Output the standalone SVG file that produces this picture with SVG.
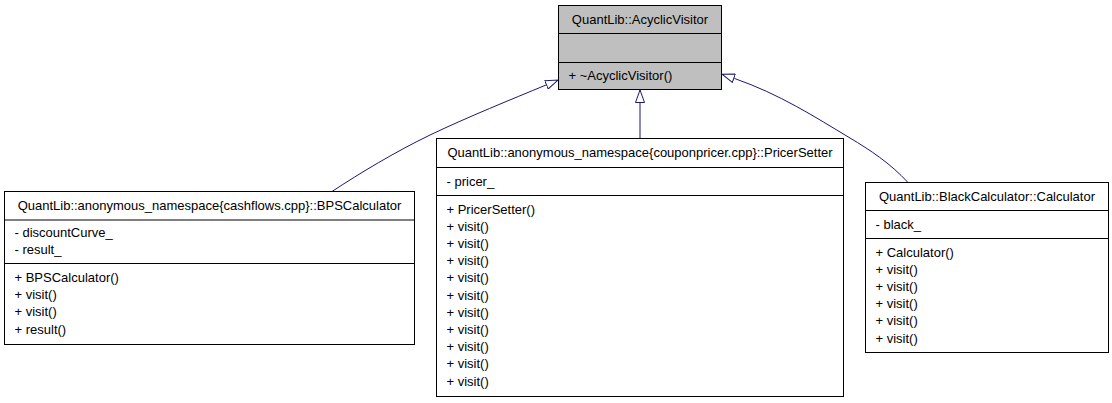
<svg xmlns="http://www.w3.org/2000/svg" width="1112" height="403" viewBox="0 0 1112 403">
<style>
  .box { fill: #ffffff; stroke: #000000; stroke-width: 1; }
  .base { fill: #bfbfbf; stroke: #000000; stroke-width: 1; }
  .sep { stroke: #000000; stroke-width: 1; }
  text { font-family: "Liberation Sans", Arial, Helvetica, sans-serif; font-size: 13px; fill: #000000; }
  .c { text-anchor: middle; }
  .edge { fill: none; stroke: #191970; stroke-width: 1; }
</style>
<defs>
  <marker id="inherit" viewBox="0 0 13.5 10" refX="0" refY="5" markerWidth="13.5" markerHeight="10" markerUnits="userSpaceOnUse" orient="auto">
    <path d="M0.5,0.5 L13,5 L0.5,9.5 Z" fill="#ffffff" stroke="#191970" stroke-width="1"/>
  </marker>
</defs>
<rect width="1112" height="403" fill="#ffffff"/>

<g id="connectors">
  <path class="edge" d="M332,191.5 C360,173 395,152 430,135 C470,116 510,100 546,85" marker-end="url(#inherit)"/>
  <path class="edge" d="M640,138.5 L640,103" marker-end="url(#inherit)"/>
  <path class="edge" d="M908,182.5 C890,163 870,150 850,138 C815,117 780,94.3 734.3,78.4" marker-end="url(#inherit)"/>
</g>

<g id="node-AcyclicVisitor">
  <rect class="base" x="558.5" y="5.5" width="163" height="84"/>
  <line class="sep" x1="558.5" y1="33.5" x2="721.5" y2="33.5"/>
  <line class="sep" x1="558.5" y1="62.5" x2="721.5" y2="62.5"/>
  <text class="c" x="640" y="23.5">QuantLib::AcyclicVisitor</text>
  <text x="568.5" y="80">+ ~AcyclicVisitor()</text>
</g>

<g id="node-BPSCalculator">
  <rect class="box" x="4.5" y="191.5" width="410" height="153"/>
  <line class="sep" x1="4.5" y1="220" x2="414.5" y2="220"/>
  <line class="sep" x1="4.5" y1="263.5" x2="414.5" y2="263.5"/>
  <text class="c" x="209.5" y="210">QuantLib::anonymous_namespace{cashflows.cpp}::BPSCalculator</text>
  <text x="14.5" y="237">- discountCurve_</text>
  <text x="14.5" y="254.2">- result_</text>
  <text x="14.5" y="282">+ BPSCalculator()</text>
  <text x="14.5" y="299.2">+ visit()</text>
  <text x="14.5" y="316.4">+ visit()</text>
  <text x="14.5" y="333.6">+ result()</text>
</g>

<g id="node-PricerSetter">
  <rect class="box" x="436.5" y="138.5" width="407" height="258"/>
  <line class="sep" x1="436.5" y1="167.5" x2="843.5" y2="167.5"/>
  <line class="sep" x1="436.5" y1="195.5" x2="843.5" y2="195.5"/>
  <text class="c" x="640" y="157">QuantLib::anonymous_namespace{couponpricer.cpp}::PricerSetter</text>
  <text x="446.5" y="185.5">- pricer_</text>
  <text x="446.5" y="213.5">+ PricerSetter()</text>
  <text x="446.5" y="230.7">+ visit()</text>
  <text x="446.5" y="247.9">+ visit()</text>
  <text x="446.5" y="265.1">+ visit()</text>
  <text x="446.5" y="282.3">+ visit()</text>
  <text x="446.5" y="299.5">+ visit()</text>
  <text x="446.5" y="316.7">+ visit()</text>
  <text x="446.5" y="333.9">+ visit()</text>
  <text x="446.5" y="351.1">+ visit()</text>
  <text x="446.5" y="368.3">+ visit()</text>
  <text x="446.5" y="385.5">+ visit()</text>
</g>

<g id="node-Calculator">
  <rect class="box" x="865.5" y="182.5" width="243" height="170"/>
  <line class="sep" x1="865.5" y1="210.5" x2="1108.5" y2="210.5"/>
  <line class="sep" x1="865.5" y1="238.5" x2="1108.5" y2="238.5"/>
  <text class="c" x="987" y="201">QuantLib::BlackCalculator::Calculator</text>
  <text x="875.5" y="228.5">- black_</text>
  <text x="875.5" y="256.5">+ Calculator()</text>
  <text x="875.5" y="273.7">+ visit()</text>
  <text x="875.5" y="290.9">+ visit()</text>
  <text x="875.5" y="308.1">+ visit()</text>
  <text x="875.5" y="325.3">+ visit()</text>
  <text x="875.5" y="342.5">+ visit()</text>
</g>
</svg>
